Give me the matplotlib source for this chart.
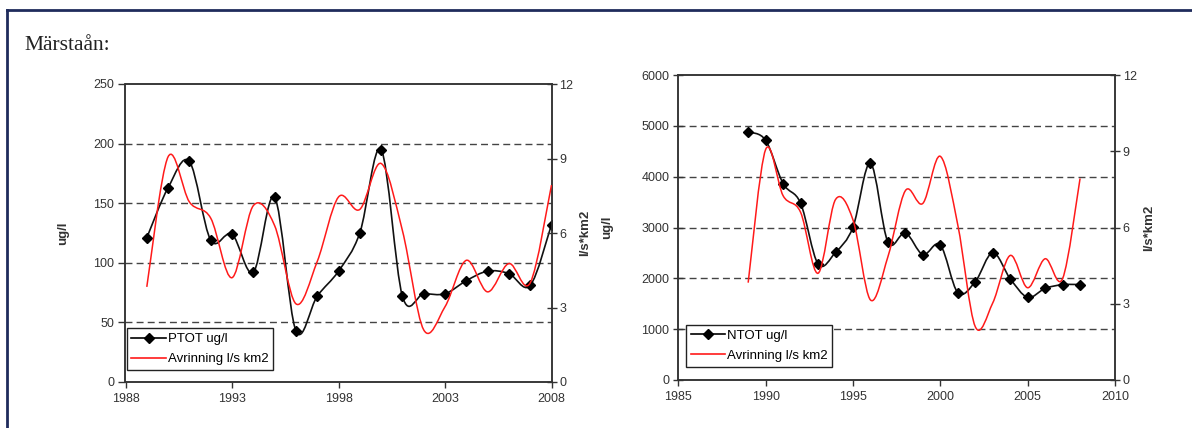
import matplotlib
matplotlib.use('Agg')
import matplotlib.pyplot as plt
import numpy as np
from matplotlib.path import Path
from matplotlib.patches import PathPatch
from matplotlib.lines import Line2D

# data
years = [1989, 1990, 1991, 1992, 1993, 1994, 1995, 1996, 1997, 1998,
         1999, 2000, 2001, 2002, 2003, 2004, 2005, 2006, 2007, 2008]
ptot = [121, 163, 185, 119, 124, 92, 155, 43, 72, 93,
        125, 195, 72, 74, 74, 85, 93, 91, 81, 132]
ntot = [4880, 4716, 3865, 3479, 2282, 2511, 3007, 4265, 2712, 2895,
        2466, 2656, 1718, 1934, 2505, 1993, 1626, 1803, 1875, 1878]
avrinning = [3.83, 9.07, 7.25, 6.6, 4.2, 7.1, 6.3, 3.15, 4.85, 7.45,
             6.95, 8.8, 6.1, 2.1, 3.03, 4.9, 3.63, 4.77, 3.99, 7.93]

left_xticks = [1988, 1993, 1998, 2003, 2008]
right_xticks = [1985, 1990, 1995, 2000, 2005, 2010]
ptot_ticks = [0, 50, 100, 150, 200, 250]
ntot_ticks = [0, 1000, 2000, 3000, 4000, 5000, 6000]
flow_ticks = [0, 3, 6, 9, 12]

plt.rcParams['font.family'] = ['Liberation Sans', 'DejaVu Sans']
W, H = 1192, 428


def smooth_path(x, y):
    # excel style smoothed line: bezier segments through the data points
    pts = np.column_stack([x, y]).astype(float)
    n = len(pts)
    verts = [pts[0]]
    codes = [Path.MOVETO]
    for i in range(n - 1):
        p0 = pts[max(i - 1, 0)]
        p1 = pts[i]
        p2 = pts[i + 1]
        p3 = pts[min(i + 2, n - 1)]
        verts += [p1 + (p2 - p0) / 6, p2 - (p3 - p1) / 6, p2]
        codes += [Path.CURVE4] * 3
    return Path(verts, codes)


def panel(rect, vals, vticks, xticks, name, lytick_dir, leg_xy, ylab_x):
    ax = fig.add_axes(rect)
    ax2 = ax.twinx()
    ax.set_xlim(xticks[0], xticks[-1])
    ax.set_ylim(vticks[0], vticks[-1])
    ax2.set_ylim(flow_ticks[0], flow_ticks[-1])
    for v in vticks[1:-1]:
        ax.axhline(v, color='#444444', lw=1.0, ls=(0, (5, 3)), zorder=1)
    ax.add_patch(PathPatch(smooth_path(years, vals), fill=False,
                           edgecolor='#111111', lw=1.2, zorder=3))
    ax.plot(years, vals, ls='none', marker='D', ms=4.8, color='black', zorder=4)
    ax2.add_patch(PathPatch(smooth_path(years, avrinning), fill=False,
                            edgecolor='#ff1a1a', lw=1.1, zorder=3))
    ax.set_xticks(xticks)
    ax.set_yticks(vticks)
    ax2.set_yticks(flow_ticks)
    for a in (ax, ax2):
        for s in a.spines.values():
            s.set_color('#333333')
            s.set_linewidth(1.1)
    ax.tick_params(axis='x', direction='out', length=4, width=1, colors='#333333',
                   labelsize=9, pad=4)
    ax.tick_params(axis='y', direction=lytick_dir, length=5 if lytick_dir == 'out' else 7,
                   width=1, colors='#333333', labelsize=9, pad=3)
    ax2.tick_params(axis='y', direction='inout', length=7, width=1, colors='#333333',
                    labelsize=9, pad=2)
    ax.set_ylabel('ug/l', fontsize=9.5, fontweight='bold', color='#333333')
    ax.yaxis.set_label_coords(ylab_x, 0.5)
    ax2.set_ylabel('l/s*km2', fontsize=9.5, fontweight='bold', color='#333333')
    ax2.yaxis.set_label_coords(1.064, 0.5)
    handles = [Line2D([], [], color='black', marker='D', ms=4.8, lw=1.2),
               Line2D([], [], color='#ff1a1a', lw=1.2)]
    leg = ax2.legend(handles, [name, 'Avrinning l/s km2'], loc='lower left',
                     bbox_to_anchor=leg_xy, borderaxespad=0, fontsize=9.5,
                     fancybox=False, framealpha=1, edgecolor='#222222',
                     handlelength=2.6, handletextpad=0.15, labelspacing=0.6,
                     borderpad=0.35)
    leg.get_frame().set_linewidth(1.0)
    return ax


fig = plt.figure(figsize=(W / 100, H / 100), dpi=100)

panel([125.5 / W, 1 - 382 / H, 426 / W, 298 / H], ptot, ptot_ticks, left_xticks,
      'PTOT ug/l', 'out', (0.003, 0.04), -0.133)
panel([678.3 / W, 1 - 380 / H, 436.7 / W, 305 / H], ntot, ntot_ticks, right_xticks,
      'NTOT ug/l', 'inout', (0.018, 0.044), -0.15)

fig.text(24 / W, 1 - 50 / H, 'Märstaån:', family='Liberation Serif', fontsize=15.5,
         color='#222222', va='baseline')

# page frame
fig.add_artist(Line2D([7 / W, 1], [1 - 10 / H, 1 - 10 / H], transform=fig.transFigure,
                      color='#1f2b5c', lw=2))
fig.add_artist(Line2D([7 / W, 7 / W], [0, 1 - 10 / H], transform=fig.transFigure,
                      color='#1f2b5c', lw=2))

fig.savefig('out.png', dpi=100)
